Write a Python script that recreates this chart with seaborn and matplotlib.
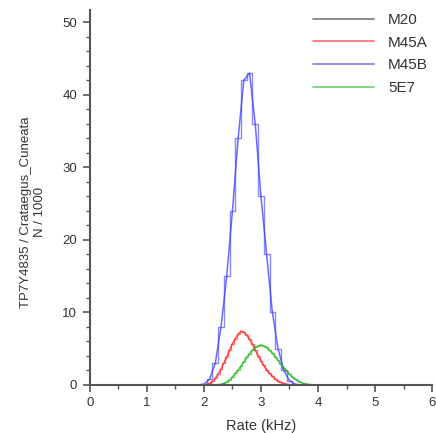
import numpy as np
import pandas as pd
import matplotlib
matplotlib.use("Agg")
import matplotlib.pyplot as plt
import seaborn as sns
from matplotlib.ticker import MultipleLocator

# Rate histograms (bin centres in kHz, counts in thousands)
m20_rate = [0.0, 6.0]
m20_count = [0.0, 0.0]

m45a_rate = [0.0, 2.00, 2.05, 2.10, 2.15, 2.20, 2.25, 2.30, 2.35, 2.40, 2.45, 2.50, 2.55,
             2.60, 2.65, 2.70, 2.75, 2.80, 2.85, 2.90, 2.95, 3.00, 3.05, 3.10,
             3.15, 3.20, 3.25, 3.30, 3.35, 3.40, 3.45, 3.50, 3.55, 6.0]
m45a_count = [0.0, 0.0, 0.05, 0.2, 0.5, 0.9, 1.5, 2.2, 3.0, 3.9, 4.8, 5.7, 6.4,
              7.0, 7.4, 7.3, 6.9, 6.3, 5.6, 4.8, 4.0, 3.3, 2.7, 2.1,
              1.6, 1.2, 0.8, 0.5, 0.35, 0.2, 0.1, 0.05, 0.0, 0.0]

m45b_rate = [0.0, 1.9, 2.0, 2.1, 2.2, 2.3, 2.4, 2.5, 2.6, 2.7, 2.8, 2.9, 3.0, 3.1,
             3.2, 3.3, 3.4, 3.5, 3.6, 3.7, 6.0]
m45b_count = [0.0, 0.0, 0.1, 0.8, 3.0, 8.0, 15.0, 24.0, 34.0, 42.0, 43.0, 36.0, 26.0, 18.0,
              10.0, 5.0, 2.0, 0.6, 0.1, 0.0, 0.0]

se7_rate = [0.0, 2.20, 2.25, 2.30, 2.35, 2.40, 2.45, 2.50, 2.55, 2.60, 2.65, 2.70, 2.75,
            2.80, 2.85, 2.90, 2.95, 3.00, 3.05, 3.10, 3.15, 3.20, 3.25, 3.30,
            3.35, 3.40, 3.45, 3.50, 3.55, 3.60, 3.65, 3.70, 3.75, 3.80, 3.85,
            3.90, 3.95, 4.00, 6.0]
se7_count = [0.0, 0.0, 0.05, 0.1, 0.2, 0.4, 0.7, 1.1, 1.6, 2.1, 2.6, 3.2, 3.8,
             4.3, 4.8, 5.2, 5.4, 5.5, 5.4, 5.2, 4.8, 4.4, 3.9, 3.4,
             2.9, 2.4, 1.9, 1.5, 1.1, 0.8, 0.55, 0.35, 0.2, 0.12, 0.06,
             0.03, 0.01, 0.0, 0.0]

series_names = ["M20", "M45A", "M45B", "5E7"]
series_colors = ["#303030", "#ff2020", "#3a3aff", "#22b422"]

frames = []
for name, r, c in [("M20", m20_rate, m20_count), ("M45A", m45a_rate, m45a_count),
                   ("M45B", m45b_rate, m45b_count), ("5E7", se7_rate, se7_count)]:
    frames.append(pd.DataFrame({"rate": r, "count": c, "series": name}))
df = pd.concat(frames, ignore_index=True)

sns.set_style("ticks")
plt.rcParams["font.family"] = ["Liberation Sans", "DejaVu Sans"]

fig = plt.figure(figsize=(4.36, 4.33), dpi=100)
ax = fig.add_axes([0.206, 0.111, 0.785, 0.866])

palette = dict(zip(series_names, series_colors))

# histogram outline
sns.lineplot(data=df, x="rate", y="count", hue="series", hue_order=series_names,
             palette=palette, drawstyle="steps-mid", linewidth=1.0, alpha=0.6,
             legend=False, ax=ax, sort=False, estimator=None)
# line through bin centres
sns.lineplot(data=df, x="rate", y="count", hue="series", hue_order=series_names,
             palette=palette, linewidth=1.1, alpha=0.75, ax=ax, sort=False,
             estimator=None)

ax.set_xlim(0, 6)
ax.set_ylim(0, 51.7)
ax.xaxis.set_major_locator(MultipleLocator(1))
ax.xaxis.set_minor_locator(MultipleLocator(0.5))
ax.yaxis.set_major_locator(MultipleLocator(10))
ax.yaxis.set_minor_locator(MultipleLocator(2))

for side in ["top", "right"]:
    ax.spines[side].set_visible(False)
for side in ["left", "bottom"]:
    ax.spines[side].set_color("#555555")
    ax.spines[side].set_linewidth(1.5)

ax.tick_params(which="major", direction="out", length=5, width=1.2, colors="#555555",
               labelsize=9.5, labelcolor="#333333", pad=4)
ax.tick_params(which="minor", direction="out", length=3, width=1.0, colors="#555555")

ax.set_xlabel("Rate (kHz)", fontsize=10.5, color="#333333", labelpad=7)
ax.set_ylabel("TP7Y4835 / Crataegus_Cuneata\nN / 1000", fontsize=9.5, color="#333333",
              labelpad=12, linespacing=1.15)
ax.yaxis.label.set_y(0.461)

leg = ax.legend(loc="upper right", frameon=False, fontsize=11, handlelength=4.0,
                labelspacing=0.57, borderaxespad=0.0, bbox_to_anchor=(1.006, 1.008),
                handletextpad=0.9)
for line in leg.get_lines():
    line.set_linewidth(1.3)
    line.set_alpha(0.6)
for t in leg.get_texts():
    t.set_color("#333333")

fig.savefig("out.png", dpi=100)
